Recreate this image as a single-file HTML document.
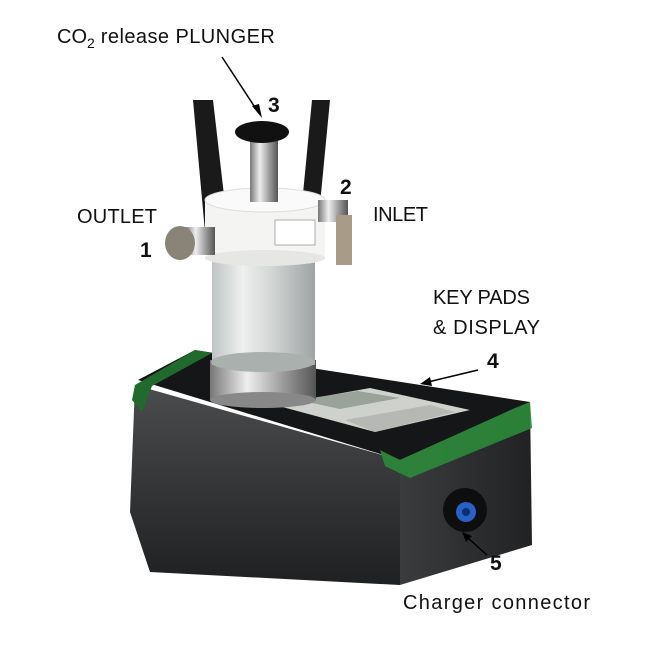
<!DOCTYPE html>
<html><head><meta charset="utf-8"><style>
html,body{margin:0;padding:0;background:#fff;}
svg{display:block}
text{font-family:"Liberation Sans",sans-serif;fill:#111}
</style></head><body>
<svg width="650" height="650" viewBox="0 0 650 650" xmlns="http://www.w3.org/2000/svg">
<defs>
<linearGradient id="glass" x1="0" x2="1"><stop offset="0" stop-color="#bfc4c4"/><stop offset="0.3" stop-color="#eef0ef"/><stop offset="0.6" stop-color="#cfd3d2"/><stop offset="1" stop-color="#9ea3a3"/></linearGradient>
<linearGradient id="metal" x1="0" x2="1"><stop offset="0" stop-color="#777"/><stop offset="0.35" stop-color="#eee"/><stop offset="0.7" stop-color="#999"/><stop offset="1" stop-color="#555"/></linearGradient>
<linearGradient id="front" x1="0" x2="0" y1="0" y2="1"><stop offset="0" stop-color="#4a4c4e"/><stop offset="1" stop-color="#1e2022"/></linearGradient>
<linearGradient id="side" x1="0" x2="1"><stop offset="0" stop-color="#3a3c3e"/><stop offset="1" stop-color="#202224"/></linearGradient>
</defs>
<rect width="650" height="650" fill="#fff"/>
<!-- straps -->
<path d="M193,100 L213,100 L228,230 L205,232 Z" fill="#1a1a1a"/>
<path d="M312,100 L330,100 L318,225 L300,225 Z" fill="#1a1a1a"/>
<!-- box -->
<polygon points="138,380 195,350 530,402 400,460" fill="#151617"/>
<polygon points="135,385 400,460 400,585 150,572 130,512" fill="url(#front)"/>
<polygon points="400,460 530,402 532,545 400,585" fill="url(#side)"/>
<polygon points="135,385 195,350 212,353 152,386 142,412 132,400" fill="#1f6a2c"/>
<polygon points="380,450 400,460 515,408 530,402 532,428 410,478 385,466" fill="#2c8a3a" opacity="0.9"/>
<!-- display panel -->
<polygon points="275,405 370,388 470,410 375,432" fill="#cfd1cd"/>
<polygon points="298,400 358,391 400,398 340,409" fill="#9aa39a"/>
<polygon points="345,420 430,405 455,412 375,432" fill="#b6b8b4"/>
<!-- connector -->
<circle cx="465" cy="510" r="22" fill="#0e0e0e"/>
<circle cx="466" cy="512" r="10" fill="#2860c8"/>
<circle cx="466" cy="512" r="4" fill="#0a2e70"/>
<!-- metal base ring -->
<rect x="210" y="360" width="106" height="40" fill="url(#metal)"/>
<ellipse cx="263" cy="400" rx="53" ry="8" fill="#888"/>
<!-- glass -->
<rect x="212" y="255" width="103" height="110" fill="url(#glass)"/>
<ellipse cx="263" cy="362" rx="52" ry="10" fill="#aab0ae"/>
<!-- white cap -->
<rect x="205" y="200" width="120" height="58" fill="#f4f4f2"/>
<ellipse cx="265" cy="200" rx="60" ry="12" fill="#fafafa" stroke="#ddd"/>
<ellipse cx="265" cy="258" rx="60" ry="8" fill="#e6e6e4"/>
<rect x="275" y="220" width="40" height="25" fill="#fff" stroke="#999" stroke-width="0.8"/>
<!-- outlet fitting -->
<rect x="185" y="227" width="30" height="28" fill="url(#metal)"/>
<ellipse cx="180" cy="243" rx="15" ry="17" fill="#8a8478"/>
<!-- inlet fitting -->
<rect x="318" y="200" width="30" height="22" fill="url(#metal)"/>
<rect x="336" y="215" width="16" height="50" fill="#a89c88"/>
<!-- stem -->
<rect x="250" y="140" width="28" height="62" fill="url(#metal)"/>
<ellipse cx="262" cy="132" rx="27" ry="11" fill="#111"/>
<!-- labels -->
<text x="57" y="43" font-size="20">CO<tspan font-size="14" dy="5">2</tspan><tspan dy="-5" textLength="180"> release PLUNGER</tspan></text>
<line x1="222" y1="57" x2="258" y2="112" stroke="#000" stroke-width="1.5"/>
<polygon points="262,118 252,106 259,104" fill="#000"/>
<text x="268" y="112" font-size="21" font-weight="bold">3</text>
<text x="340" y="194" font-size="21" font-weight="bold">2</text>
<text x="373" y="221" font-size="20" textLength="55">INLET</text>
<text x="77" y="223" font-size="20" textLength="80">OUTLET</text>
<text x="140" y="257" font-size="21" font-weight="bold">1</text>
<text x="433" y="304" font-size="20" textLength="97">KEY PADS</text>
<text x="433" y="334" font-size="20" textLength="107">&amp; DISPLAY</text>
<text x="487" y="368" font-size="21" font-weight="bold">4</text>
<line x1="478" y1="370" x2="428" y2="382" stroke="#000" stroke-width="1.5"/>
<polygon points="420,384 430,377 432,386" fill="#000"/>
<line x1="487" y1="555" x2="468" y2="538" stroke="#000" stroke-width="1.5"/>
<polygon points="462,532 472,536 466,542" fill="#000"/>
<text x="490" y="570" font-size="21" font-weight="bold">5</text>
<text x="403" y="609" font-size="20" textLength="187">Charger connector</text>
</svg>
</body></html>
